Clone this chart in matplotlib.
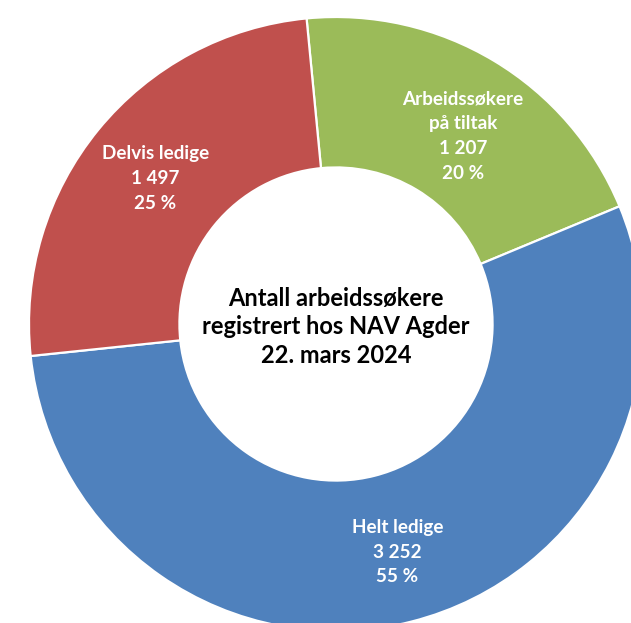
import matplotlib
matplotlib.use("Agg")
import matplotlib.pyplot as plt

categories = ["Arbeidssøkere\npå tiltak", "Helt ledige", "Delvis ledige"]
values = [1207, 3252, 1497]
colors = ["#9BBB59", "#4F81BD", "#C0504D"]
center_title = "Antall arbeidssøkere\nregistrert hos NAV Agder\n22. mars 2024"

W, H = 631, 623
fig = plt.figure(figsize=(W / 100, H / 100), dpi=100)
ax = fig.add_axes([0, 0, 1, 1])

total = sum(values)
def fmt(v):
    return f"{v:,}".replace(",", "\u00a0")
labels = [f"{c}\n{fmt(v)}\n{round(100 * v / total)} %" for c, v in zip(categories, values)]

cx, cy = 336, H - 324
R = 307
wedges, texts = ax.pie(
    values, colors=colors, startangle=95.5, counterclock=False,
    center=(cx, cy), radius=R, labels=labels, labeldistance=0.76,
    wedgeprops=dict(width=R * 0.49, edgecolor="white", linewidth=1.6),
    textprops=dict(color="white", fontweight="bold", fontsize=13.6, family="Lato"),
)
# small label nudges (pixels) to match the original placement
nudges = [(7, -12), (4, -2), (0, -2)]
for t, (dx, dy) in zip(texts, nudges):
    t.set_ha("center")
    t.set_va("center")
    t.set_linespacing(1.55)
    x, y = t.get_position()
    t.set_position((x + dx, y + dy))

ax.text(cx, cy - 3, center_title, ha="center", va="center", fontsize=17,
        fontweight="bold", family="Lato", color="black", linespacing=1.3)

ax.set_xlim(0, W)
ax.set_ylim(0, H)
ax.set_aspect("equal")
ax.axis("off")
fig.savefig("out.png", dpi=100)
